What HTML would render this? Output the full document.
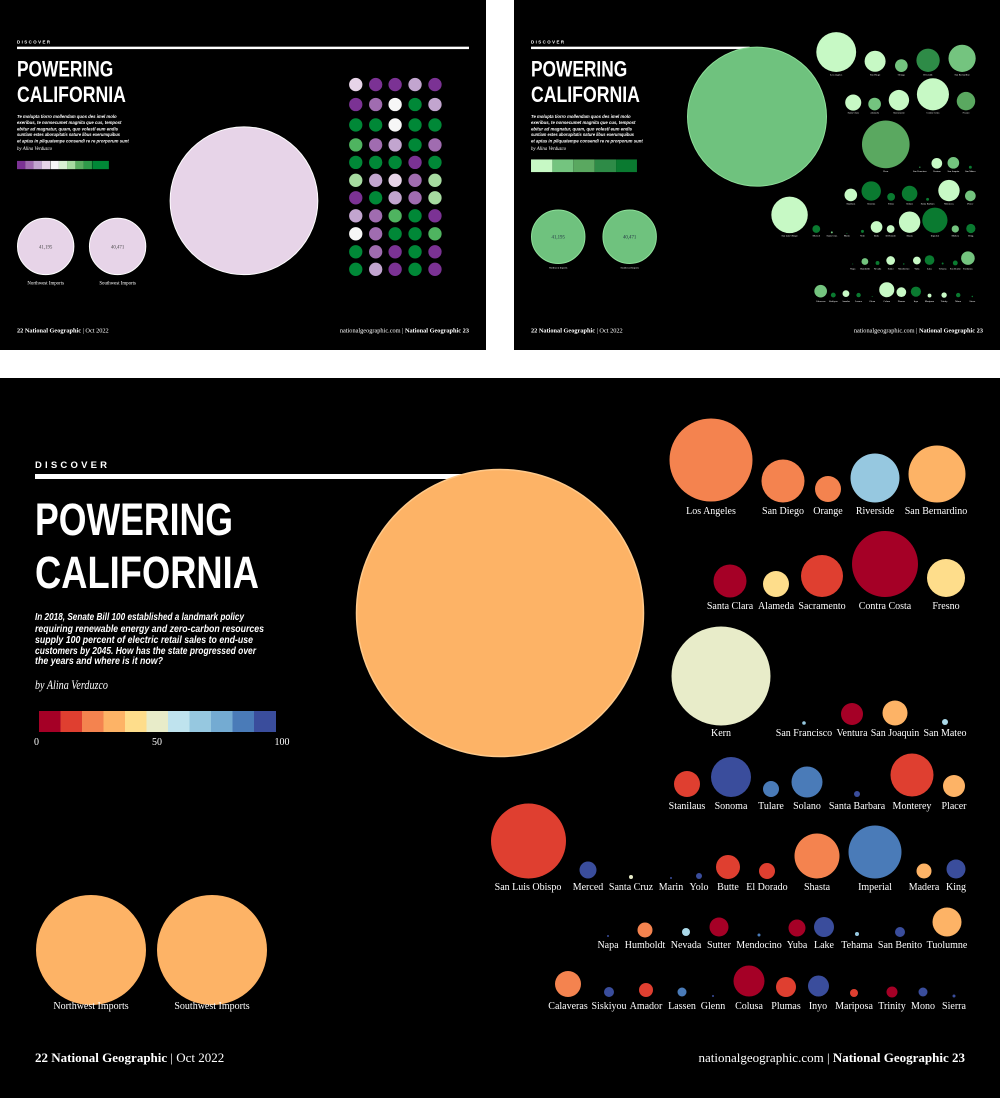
<!DOCTYPE html>
<html><head><meta charset="utf-8">
<style>
html,body{margin:0;padding:0;background:#fff;width:1000px;height:1098px;overflow:hidden}
svg{position:absolute;display:block}
.t{font-family:"Liberation Sans",sans-serif;font-weight:bold;fill:#fff}
.s{font-family:"Liberation Serif",serif;fill:#fff}
.l{font-family:"Liberation Serif",serif;fill:#fff;font-size:10px;text-anchor:middle}
.ls{font-family:"Liberation Serif",serif;fill:#fff;font-size:5px;text-anchor:middle}
.p{font-family:"Liberation Sans",sans-serif;font-weight:bold;font-style:italic;fill:#fff}
</style></head><body>

<!-- TOP LEFT PANEL -->
<svg style="left:0;top:0" width="486" height="350" viewBox="0 0 1000 720" preserveAspectRatio="none">
<rect width="1000" height="720" fill="#000"/>
<text class="t" x="35" y="90" font-size="9" letter-spacing="3">DISCOVER</text>
<rect x="35" y="96" width="930" height="5" fill="#fff"/>
<text class="t" x="35" y="157" font-size="45" textLength="198" lengthAdjust="spacingAndGlyphs">POWERING</text>
<text class="t" x="35" y="210" font-size="45" textLength="224" lengthAdjust="spacingAndGlyphs">CALIFORNIA</text>
<g class="p" font-size="8.5">
<text x="35" y="243" textLength="205" lengthAdjust="spacingAndGlyphs">Te molupta tiorro mollendam quos des imel molo</text>
<text x="35" y="255" textLength="215" lengthAdjust="spacingAndGlyphs">exeribus, te nonsecumet magnita que cus, tempost</text>
<text x="35" y="268" textLength="208" lengthAdjust="spacingAndGlyphs">ebitur ad magnatur, quam, quo volestl eum endis</text>
<text x="35" y="280" textLength="212" lengthAdjust="spacingAndGlyphs">suntiam estes aborupitatis nature libus exerumquibus</text>
<text x="35" y="293" textLength="230" lengthAdjust="spacingAndGlyphs">et aptas in pliquatempe consendi re re prorporum sunt</text>
</g>
<text class="s" x="35" y="309" font-size="10" font-style="italic">by Alina Verduzco</text>
<g>
<rect x="35" y="331" width="17.2" height="17" fill="#7b3294"/>
<rect x="52" y="331" width="17.2" height="17" fill="#a06cb0"/>
<rect x="69" y="331" width="17.2" height="17" fill="#c2a5cf"/>
<rect x="86" y="331" width="17.2" height="17" fill="#e7d4e8"/>
<rect x="104" y="331" width="17.2" height="17" fill="#f7f7f7"/>
<rect x="121" y="331" width="17.2" height="17" fill="#d9f0d3"/>
<rect x="138" y="331" width="17.2" height="17" fill="#a6dba0"/>
<rect x="155" y="331" width="17.2" height="17" fill="#5aae61"/>
<rect x="172" y="331" width="17.2" height="17" fill="#2f9b4a"/>
<rect x="190" y="331" width="34" height="17" fill="#008837"/>
</g>
<circle cx="94" cy="507" r="58" fill="#e7d4e8" stroke="#fff" stroke-width="2"/>
<circle cx="242" cy="507" r="58" fill="#e7d4e8" stroke="#fff" stroke-width="2"/>
<text class="s" x="94" y="511" font-size="10" text-anchor="middle" style="fill:#444">41,195</text>
<text class="s" x="242" y="511" font-size="10" text-anchor="middle" style="fill:#444">40,471</text>
<text class="s" x="94" y="585" font-size="10" text-anchor="middle">Northwest Imports</text>
<text class="s" x="242" y="585" font-size="10" text-anchor="middle">Southwest Imports</text>
<circle cx="502" cy="413" r="152" fill="#e7d4e8" stroke="#fff" stroke-width="2"/>
<g>
<circle cx="732" cy="174" r="13.7" fill="#e7d4e8"/><circle cx="773" cy="174" r="13.7" fill="#7b3294"/><circle cx="813" cy="174" r="13.7" fill="#7b3294"/><circle cx="854" cy="174" r="13.7" fill="#c2a5cf"/><circle cx="895" cy="174" r="13.7" fill="#7b3294"/>
<circle cx="732" cy="215" r="13.7" fill="#7b3294"/><circle cx="773" cy="215" r="13.7" fill="#a06cb0"/><circle cx="813" cy="215" r="13.7" fill="#f7f7f7"/><circle cx="854" cy="215" r="13.7" fill="#008837"/><circle cx="895" cy="215" r="13.7" fill="#c2a5cf"/>
<circle cx="732" cy="257" r="13.7" fill="#008837"/><circle cx="773" cy="257" r="13.7" fill="#008837"/><circle cx="813" cy="257" r="13.7" fill="#f7f7f7"/><circle cx="854" cy="257" r="13.7" fill="#008837"/><circle cx="895" cy="257" r="13.7" fill="#008837"/>
<circle cx="732" cy="298" r="13.7" fill="#4fb460"/><circle cx="773" cy="298" r="13.7" fill="#a06cb0"/><circle cx="813" cy="298" r="13.7" fill="#c2a5cf"/><circle cx="854" cy="298" r="13.7" fill="#008837"/><circle cx="895" cy="298" r="13.7" fill="#a06cb0"/>
<circle cx="732" cy="334" r="13.7" fill="#008837"/><circle cx="773" cy="334" r="13.7" fill="#008837"/><circle cx="813" cy="334" r="13.7" fill="#008837"/><circle cx="854" cy="334" r="13.7" fill="#7b3294"/><circle cx="895" cy="334" r="13.7" fill="#008837"/>
<circle cx="732" cy="371" r="13.7" fill="#a6dba0"/><circle cx="773" cy="371" r="13.7" fill="#c2a5cf"/><circle cx="813" cy="371" r="13.7" fill="#e7d4e8"/><circle cx="854" cy="371" r="13.7" fill="#a06cb0"/><circle cx="895" cy="371" r="13.7" fill="#a6dba0"/>
<circle cx="732" cy="407" r="13.7" fill="#7b3294"/><circle cx="773" cy="407" r="13.7" fill="#008837"/><circle cx="813" cy="407" r="13.7" fill="#c2a5cf"/><circle cx="854" cy="407" r="13.7" fill="#a06cb0"/><circle cx="895" cy="407" r="13.7" fill="#a6dba0"/>
<circle cx="732" cy="444" r="13.7" fill="#c2a5cf"/><circle cx="773" cy="444" r="13.7" fill="#a06cb0"/><circle cx="813" cy="444" r="13.7" fill="#4fb460"/><circle cx="854" cy="444" r="13.7" fill="#008837"/><circle cx="895" cy="444" r="13.7" fill="#7b3294"/>
<circle cx="732" cy="481" r="13.7" fill="#f7f7f7"/><circle cx="773" cy="481" r="13.7" fill="#a06cb0"/><circle cx="813" cy="481" r="13.7" fill="#008837"/><circle cx="854" cy="481" r="13.7" fill="#008837"/><circle cx="895" cy="481" r="13.7" fill="#4fb460"/>
<circle cx="732" cy="518" r="13.7" fill="#008837"/><circle cx="773" cy="518" r="13.7" fill="#a06cb0"/><circle cx="813" cy="518" r="13.7" fill="#7b3294"/><circle cx="854" cy="518" r="13.7" fill="#008837"/><circle cx="895" cy="518" r="13.7" fill="#7b3294"/>
<circle cx="732" cy="554" r="13.7" fill="#008837"/><circle cx="773" cy="554" r="13.7" fill="#c2a5cf"/><circle cx="813" cy="554" r="13.7" fill="#7b3294"/><circle cx="854" cy="554" r="13.7" fill="#008837"/><circle cx="895" cy="554" r="13.7" fill="#7b3294"/>
</g>
<text class="s" x="35" y="684" font-size="13"><tspan font-weight="bold">22  National Geographic</tspan> | Oct 2022</text>
<text class="s" x="965" y="684" font-size="13" text-anchor="end">nationalgeographic.com | <tspan font-weight="bold">National Geographic  23</tspan></text>
</svg>

<!-- TOP RIGHT PANEL -->
<svg style="left:514px;top:0" width="486" height="350" viewBox="0 0 1000 720" preserveAspectRatio="none">
<rect width="1000" height="720" fill="#000"/>
<text class="t" x="35" y="90" font-size="9" letter-spacing="3">DISCOVER</text>
<rect x="35" y="96" width="450" height="5" fill="#fff"/>
<text class="t" x="35" y="157" font-size="45" textLength="198" lengthAdjust="spacingAndGlyphs">POWERING</text>
<text class="t" x="35" y="210" font-size="45" textLength="224" lengthAdjust="spacingAndGlyphs">CALIFORNIA</text>
<g class="p" font-size="8.5">
<text x="35" y="243" textLength="205" lengthAdjust="spacingAndGlyphs">Te molupta tiorro mollendam quos des imel molo</text>
<text x="35" y="255" textLength="215" lengthAdjust="spacingAndGlyphs">exeribus, te nonsecumet magnita que cus, tempost</text>
<text x="35" y="268" textLength="208" lengthAdjust="spacingAndGlyphs">ebitur ad magnatur, quam, quo volestl eum endis</text>
<text x="35" y="280" textLength="212" lengthAdjust="spacingAndGlyphs">suntiam estes aborupitatis nature libus exerumquibus</text>
<text x="35" y="293" textLength="230" lengthAdjust="spacingAndGlyphs">et aptas in pliquatempe consendi re re prorporum sunt</text>
</g>
<text class="s" x="35" y="309" font-size="10" font-style="italic">by Alina Verduzco</text>
<rect x="35" y="328" width="44" height="26" fill="#c7f9c5"/>
<rect x="79" y="328" width="43" height="26" fill="#74c47f"/>
<rect x="122" y="328" width="44" height="26" fill="#5aa860"/>
<rect x="166" y="328" width="44" height="26" fill="#2e8b47"/>
<rect x="210" y="328" width="43" height="26" fill="#0a7a30"/>
<circle cx="91" cy="487" r="55" fill="#6fc27e" stroke="#8ee09a" stroke-width="2"/>
<circle cx="238" cy="487" r="55" fill="#6fc27e" stroke="#8ee09a" stroke-width="2"/>
<text class="s" x="91" y="491" font-size="10" text-anchor="middle" style="fill:#234">41,195</text>
<text class="s" x="238" y="491" font-size="10" text-anchor="middle" style="fill:#234">40,471</text>
<text class="ls" x="91" y="552">Northwest Imports</text>
<text class="ls" x="238" y="552">Southwest Imports</text>
<circle cx="500" cy="240" r="143" fill="#6fc27e" stroke="#8ee09a" stroke-width="2"/>
<g>
<circle cx="663" cy="107" r="41" fill="#c7f9c5"/><circle cx="743" cy="126" r="21.6" fill="#c7f9c5"/><circle cx="797" cy="135" r="13" fill="#74c47f"/><circle cx="852" cy="124" r="24" fill="#2e8b47"/><circle cx="922" cy="120" r="28" fill="#74c47f"/>
<circle cx="698" cy="211" r="16.5" fill="#c7f9c5"/><circle cx="742" cy="214" r="13" fill="#74c47f"/><circle cx="792" cy="206" r="21" fill="#c7f9c5"/><circle cx="862" cy="194" r="33" fill="#c7f9c5"/><circle cx="930" cy="208" r="19" fill="#5aa860"/>
<circle cx="765" cy="297" r="49" fill="#5aa860"/><circle cx="835" cy="344" r="1.5" fill="#2e8b47"/><circle cx="870" cy="336" r="11" fill="#c7f9c5"/><circle cx="904" cy="335" r="12" fill="#74c47f"/><circle cx="939" cy="344" r="3" fill="#0a7a30"/>
<circle cx="693" cy="401" r="13" fill="#c7f9c5"/><circle cx="735" cy="393" r="20" fill="#0a7a30"/><circle cx="776" cy="405" r="8" fill="#0a7a30"/><circle cx="814" cy="398" r="16" fill="#0a7a30"/><circle cx="851" cy="410" r="3" fill="#0a7a30"/><circle cx="895" cy="392" r="22" fill="#c7f9c5"/><circle cx="939" cy="403" r="11" fill="#74c47f"/>
<circle cx="567" cy="442" r="37.5" fill="#c7f9c5"/><circle cx="622" cy="471" r="8" fill="#0a7a30"/><circle cx="654" cy="478" r="2" fill="#74c47f"/><circle cx="685" cy="480" r="1" fill="#0a7a30"/><circle cx="717" cy="476" r="3" fill="#0a7a30"/><circle cx="746" cy="467" r="12" fill="#c7f9c5"/><circle cx="775" cy="471" r="8" fill="#c7f9c5"/><circle cx="814" cy="457" r="22" fill="#c7f9c5"/><circle cx="866" cy="453" r="26" fill="#0a7a30"/><circle cx="908" cy="471" r="7.5" fill="#74c47f"/><circle cx="940" cy="470" r="9.5" fill="#0a7a30"/>
<circle cx="697" cy="543" r="1" fill="#0a7a30"/><circle cx="722" cy="538" r="7" fill="#74c47f"/><circle cx="748" cy="541" r="4" fill="#0a7a30"/><circle cx="775" cy="536" r="9" fill="#c7f9c5"/><circle cx="802" cy="543" r="1.5" fill="#0a7a30"/><circle cx="829" cy="536" r="8" fill="#c7f9c5"/><circle cx="855" cy="535" r="10" fill="#0a7a30"/><circle cx="882" cy="542" r="2" fill="#0a7a30"/><circle cx="908" cy="541" r="5" fill="#0a7a30"/><circle cx="934" cy="531" r="14" fill="#74c47f"/>
<circle cx="631" cy="599" r="13" fill="#74c47f"/><circle cx="657" cy="607" r="5" fill="#0a7a30"/><circle cx="683" cy="604" r="7" fill="#c7f9c5"/><circle cx="709" cy="607" r="4.5" fill="#0a7a30"/><circle cx="737" cy="610" r="1" fill="#0a7a30"/><circle cx="767" cy="596" r="15.5" fill="#c7f9c5"/><circle cx="797" cy="601" r="10" fill="#c7f9c5"/><circle cx="827" cy="600" r="10.5" fill="#0a7a30"/><circle cx="855" cy="608" r="4" fill="#c7f9c5"/><circle cx="885" cy="607" r="5.5" fill="#c7f9c5"/><circle cx="914" cy="607" r="4.5" fill="#0a7a30"/><circle cx="943" cy="610" r="1.5" fill="#0a7a30"/>
</g>
<g class="ls">
<text x="663" y="155">Los Angeles</text><text x="743" y="155">San Diego</text><text x="797" y="155">Orange</text><text x="852" y="155">Riverside</text><text x="922" y="155">San Bernardino</text>
<text x="698" y="233">Santa Clara</text><text x="742" y="233">Alameda</text><text x="792" y="233">Sacramento</text><text x="862" y="233">Contra Costa</text><text x="930" y="233">Fresno</text>
<text x="765" y="354">Kern</text><text x="835" y="354">San Francisco</text><text x="870" y="354">Ventura</text><text x="904" y="354">San Joaquin</text><text x="939" y="354">San Mateo</text>
<text x="693" y="421">Stanilaus</text><text x="735" y="421">Sonoma</text><text x="776" y="421">Tulare</text><text x="814" y="421">Solano</text><text x="851" y="421">Santa Barbara</text><text x="895" y="421">Monterey</text><text x="939" y="421">Placer</text>
<text x="567" y="487">San Luis Obispo</text><text x="622" y="487">Merced</text><text x="654" y="487">Santa Cruz</text><text x="685" y="487">Marin</text><text x="717" y="487">Yolo</text><text x="746" y="487">Butte</text><text x="775" y="487">El Dorado</text><text x="814" y="487">Shasta</text><text x="866" y="487">Imperial</text><text x="908" y="487">Madera</text><text x="940" y="487">King</text>
<text x="697" y="554">Napa</text><text x="722" y="554">Humboldt</text><text x="748" y="554">Nevada</text><text x="775" y="554">Sutter</text><text x="802" y="554">Mendocino</text><text x="829" y="554">Yuba</text><text x="855" y="554">Lake</text><text x="882" y="554">Tehama</text><text x="908" y="554">San Benito</text><text x="934" y="554">Tuolumne</text>
<text x="631" y="621">Calaveras</text><text x="657" y="621">Siskiyou</text><text x="683" y="621">Amador</text><text x="709" y="621">Lassen</text><text x="737" y="621">Glenn</text><text x="767" y="621">Colusa</text><text x="797" y="621">Plumas</text><text x="827" y="621">Inyo</text><text x="855" y="621">Mariposa</text><text x="885" y="621">Trinity</text><text x="914" y="621">Mono</text><text x="943" y="621">Sierra</text>
</g>
<text class="s" x="35" y="684" font-size="13"><tspan font-weight="bold">22  National Geographic</tspan> | Oct 2022</text>
<text class="s" x="965" y="684" font-size="13" text-anchor="end">nationalgeographic.com | <tspan font-weight="bold">National Geographic  23</tspan></text>
</svg>

<!-- MAIN PANEL -->
<svg style="left:0;top:378px" width="1000" height="720" viewBox="0 0 1000 720">
<rect width="1000" height="720" fill="#000"/>
<text class="t" x="35" y="90" font-size="9.5" letter-spacing="3.2">DISCOVER</text>
<rect x="35" y="96" width="450" height="5" fill="#fff"/>
<text class="t" x="35" y="157" font-size="45" textLength="198" lengthAdjust="spacingAndGlyphs">POWERING</text>
<text class="t" x="35" y="210" font-size="45" textLength="224" lengthAdjust="spacingAndGlyphs">CALIFORNIA</text>
<g class="p" font-size="10.5">
<text x="35" y="242" textLength="209" lengthAdjust="spacingAndGlyphs">In 2018, Senate Bill 100 established a landmark policy</text>
<text x="35" y="254" textLength="229" lengthAdjust="spacingAndGlyphs">requiring renewable energy and zero-carbon resources</text>
<text x="35" y="265" textLength="218" lengthAdjust="spacingAndGlyphs">supply 100 percent of electric retail sales to end-use</text>
<text x="35" y="276" textLength="221" lengthAdjust="spacingAndGlyphs">customers by 2045. How has the state progressed over</text>
<text x="35" y="286" textLength="128" lengthAdjust="spacingAndGlyphs">the years and where is it now?</text>
</g>
<text class="s" x="35" y="311" font-size="13" font-style="italic" textLength="73" lengthAdjust="spacingAndGlyphs">by Alina Verduzco</text>
<g>
<rect x="39" y="333" width="22" height="21" fill="#a50026"/>
<rect x="60.5" y="333" width="22" height="21" fill="#df3f30"/>
<rect x="82" y="333" width="22" height="21" fill="#f4834f"/>
<rect x="103.5" y="333" width="22" height="21" fill="#fdb366"/>
<rect x="125" y="333" width="22" height="21" fill="#fedd8b"/>
<rect x="146.5" y="333" width="22" height="21" fill="#e8ecc9"/>
<rect x="168" y="333" width="22" height="21" fill="#bfe3ee"/>
<rect x="189.5" y="333" width="22" height="21" fill="#96c8e0"/>
<rect x="211" y="333" width="22" height="21" fill="#74abd2"/>
<rect x="232.5" y="333" width="22" height="21" fill="#4a7bb8"/>
<rect x="254" y="333" width="22" height="21" fill="#3a4d9c"/>
</g>
<g class="s" font-size="10"><text x="34" y="367">0</text><text x="157" y="367" text-anchor="middle">50</text><text x="282" y="367" text-anchor="middle">100</text></g>
<circle cx="500" cy="235" r="143.5" fill="#fdb366" stroke="#fec98a" stroke-width="1.5"/>
<circle cx="91" cy="572" r="55" fill="#fdb366"/>
<circle cx="212" cy="572" r="55" fill="#fdb366"/>
<text class="l" x="91" y="631">Northwest Imports</text>
<text class="l" x="212" y="631">Southwest Imports</text>
<g>
<circle cx="711" cy="82" r="41.5" fill="#f4834f"/><circle cx="783" cy="103" r="21.5" fill="#f4834f"/><circle cx="828" cy="111" r="13" fill="#f4834f"/><circle cx="875" cy="100" r="24.5" fill="#96c8e0"/><circle cx="937" cy="96" r="28.5" fill="#fdb366"/>
<circle cx="730" cy="203" r="16.5" fill="#a50026"/><circle cx="776" cy="206" r="13" fill="#fedd8b"/><circle cx="822" cy="198" r="21" fill="#df3f30"/><circle cx="885" cy="186" r="33" fill="#a50026"/><circle cx="946" cy="200" r="19" fill="#fedd8b"/>
<circle cx="721" cy="298" r="49.5" fill="#e8ecc9"/><circle cx="804" cy="345" r="1.8" fill="#96c8e0"/><circle cx="852" cy="336" r="11" fill="#a50026"/><circle cx="895" cy="335" r="12.5" fill="#fdb366"/><circle cx="945" cy="344" r="3" fill="#abd9e9"/>
<circle cx="687" cy="406" r="13" fill="#df3f30"/><circle cx="731" cy="399" r="20" fill="#3a4d9c"/><circle cx="771" cy="411" r="8" fill="#4a7bb8"/><circle cx="807" cy="404" r="15.5" fill="#4a7bb8"/><circle cx="857" cy="416" r="3" fill="#3a4d9c"/><circle cx="912" cy="397" r="21.5" fill="#df3f30"/><circle cx="954" cy="408" r="11" fill="#fdb366"/>
<circle cx="528.5" cy="463" r="37.5" fill="#df3f30"/><circle cx="588" cy="492" r="8.5" fill="#3a4d9c"/><circle cx="631" cy="499" r="2" fill="#e8ecc9"/><circle cx="671" cy="500" r="1" fill="#3a4d9c"/><circle cx="699" cy="498" r="3" fill="#3a4d9c"/><circle cx="728" cy="489" r="12" fill="#df3f30"/><circle cx="767" cy="493" r="8" fill="#df3f30"/><circle cx="817" cy="478" r="22.5" fill="#f4834f"/><circle cx="875" cy="474" r="26.5" fill="#4a7bb8"/><circle cx="924" cy="493" r="7.5" fill="#fdb366"/><circle cx="956" cy="491" r="9.5" fill="#3a4d9c"/>
<circle cx="608" cy="558" r="1" fill="#3a4d9c"/><circle cx="645" cy="552" r="7.5" fill="#f4834f"/><circle cx="686" cy="554" r="4" fill="#abd9e9"/><circle cx="719" cy="549" r="9.5" fill="#a50026"/><circle cx="759" cy="557" r="1.5" fill="#4a7bb8"/><circle cx="797" cy="550" r="8.5" fill="#a50026"/><circle cx="824" cy="549" r="10" fill="#3a4d9c"/><circle cx="857" cy="556" r="2" fill="#96c8e0"/><circle cx="900" cy="554" r="5" fill="#3a4d9c"/><circle cx="947" cy="544" r="14.5" fill="#fdb366"/>
<circle cx="568" cy="606" r="13" fill="#f4834f"/><circle cx="609" cy="614" r="5" fill="#3a4d9c"/><circle cx="646" cy="612" r="7" fill="#df3f30"/><circle cx="682" cy="614" r="4.5" fill="#4a7bb8"/><circle cx="713" cy="618" r="1" fill="#3a4d9c"/><circle cx="749" cy="603" r="15.5" fill="#a50026"/><circle cx="786" cy="609" r="10" fill="#df3f30"/><circle cx="818.5" cy="608" r="10.5" fill="#3a4d9c"/><circle cx="854" cy="615" r="4" fill="#df3f30"/><circle cx="892" cy="614" r="5.5" fill="#a50026"/><circle cx="923" cy="614" r="4.5" fill="#3a4d9c"/><circle cx="954" cy="618" r="1.5" fill="#3a4d9c"/>
</g>
<g class="l">
<text x="711" y="136">Los Angeles</text><text x="783" y="136">San Diego</text><text x="828" y="136">Orange</text><text x="875" y="136">Riverside</text><text x="936" y="136">San Bernardino</text>
<text x="730" y="231">Santa Clara</text><text x="776" y="231">Alameda</text><text x="822" y="231">Sacramento</text><text x="885" y="231">Contra Costa</text><text x="946" y="231">Fresno</text>
<text x="721" y="358">Kern</text><text x="804" y="358">San Francisco</text><text x="852" y="358">Ventura</text><text x="895" y="358">San Joaquin</text><text x="945" y="358">San Mateo</text>
<text x="687" y="431">Stanilaus</text><text x="731" y="431">Sonoma</text><text x="771" y="431">Tulare</text><text x="807" y="431">Solano</text><text x="857" y="431">Santa Barbara</text><text x="912" y="431">Monterey</text><text x="954" y="431">Placer</text>
<text x="528" y="512">San Luis Obispo</text><text x="588" y="512">Merced</text><text x="631" y="512">Santa Cruz</text><text x="671" y="512">Marin</text><text x="699" y="512">Yolo</text><text x="728" y="512">Butte</text><text x="767" y="512">El Dorado</text><text x="817" y="512">Shasta</text><text x="875" y="512">Imperial</text><text x="924" y="512">Madera</text><text x="956" y="512">King</text>
<text x="608" y="570">Napa</text><text x="645" y="570">Humboldt</text><text x="686" y="570">Nevada</text><text x="719" y="570">Sutter</text><text x="759" y="570">Mendocino</text><text x="797" y="570">Yuba</text><text x="824" y="570">Lake</text><text x="857" y="570">Tehama</text><text x="900" y="570">San Benito</text><text x="947" y="570">Tuolumne</text>
<text x="568" y="631">Calaveras</text><text x="609" y="631">Siskiyou</text><text x="646" y="631">Amador</text><text x="682" y="631">Lassen</text><text x="713" y="631">Glenn</text><text x="749" y="631">Colusa</text><text x="786" y="631">Plumas</text><text x="818" y="631">Inyo</text><text x="854" y="631">Mariposa</text><text x="892" y="631">Trinity</text><text x="923" y="631">Mono</text><text x="954" y="631">Sierra</text>
</g>
<text class="s" x="35" y="684" font-size="13"><tspan font-weight="bold">22  National Geographic</tspan>  |  Oct 2022</text>
<text class="s" x="965" y="684" font-size="13" text-anchor="end">nationalgeographic.com  |  <tspan font-weight="bold">National Geographic  23</tspan></text>
</svg>
</body></html>
